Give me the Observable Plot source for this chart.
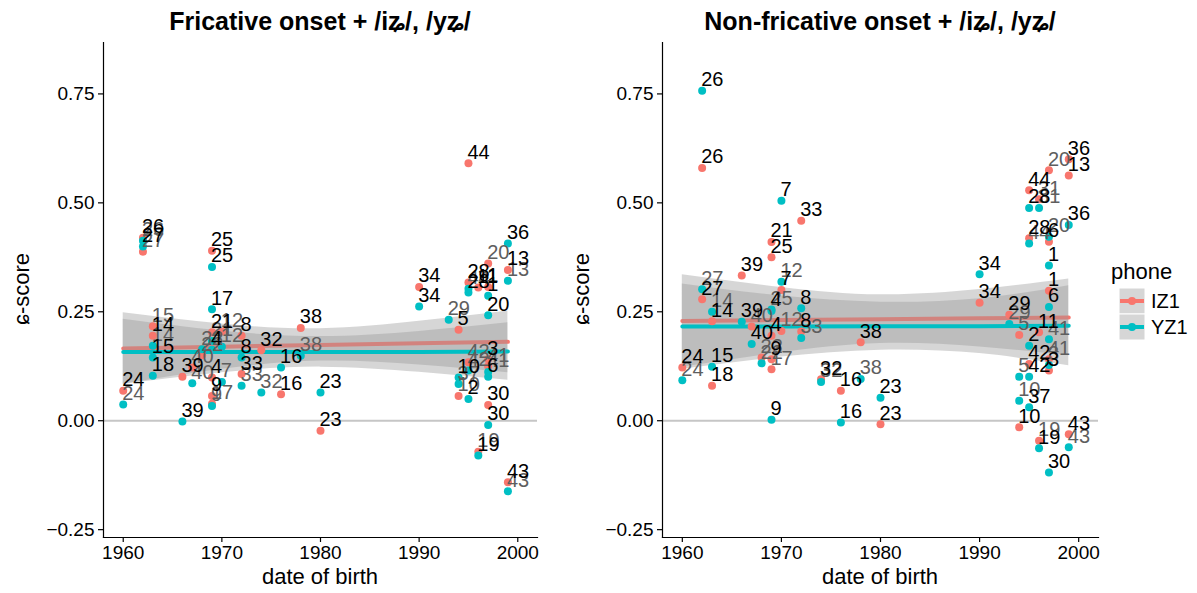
<!DOCTYPE html>
<html>
<head>
<meta charset="utf-8">
<script src="https://cdn.jsdelivr.net/npm/d3@7"></script>
<script src="https://cdn.jsdelivr.net/npm/@observablehq/plot@0.6"></script>
<style>
  body { margin: 0; background: #fff; font-family: "Liberation Sans", Arial, Helvetica, sans-serif; }
  #chart { position: relative; width: 1197px; height: 593px; overflow: hidden; }
  .plot { position: absolute; top: 0; }
  .title { position: absolute; top: 7px; font-weight: bold; font-size: 25px; transform: translateX(-50%); white-space: nowrap; }
  .xlab { position: absolute; top: 564px; font-size: 22px; transform: translateX(-50%); white-space: nowrap; }
  .ylab { position: absolute; top: 289px; font-size: 22px; transform: translate(-50%, -50%) rotate(-90deg); white-space: nowrap; }
  #legend { position: absolute; left: 1108px; top: 254px; }
</style>
</head>
<body>
<div id="chart"></div>
<script>
// Phones and their colours
const phones = ["IZ1", "YZ1"];
const phoneColors = ["#F8766D", "#00BFC4"];
const panelTitles = ["Fricative onset + /iʑ/, /yʑ/", "Non-fricative onset + /iʑ/, /yʑ/"];
const xTitle = "date of birth";
const yTitle = "ɕ-score";
const xTicks = [1960, 1970, 1980, 1990, 2000];
const yTicks = [-0.25, 0, 0.25, 0.5, 0.75];

// Speaker points. Rows: [speaker, date of birth, ɕ-score, label muted (1) or not (0)]
const fricativeIZ1 = [
  [24, 1960, 0.069, 0], [26, 1962, 0.420, 0], [27, 1962, 0.388, 1],
  [15, 1963, 0.217, 1], [14, 1963, 0.195, 0], [39, 1966, 0.101, 0],
  [40, 1967, 0.122, 1], [22, 1968, 0.150, 1], [25, 1969, 0.390, 0],
  [21, 1969, 0.203, 0], [4, 1969, 0.099, 0], [9, 1969, 0.057, 0],
  [17, 1969, 0.039, 1], [12, 1970, 0.205, 1], [8, 1972, 0.195, 0],
  [33, 1972, 0.107, 0], [32, 1974, 0.162, 0], [16, 1976, 0.061, 0],
  [38, 1978, 0.213, 0], [23, 1980, -0.023, 0], [34, 1990, 0.307, 0],
  [5, 1994, 0.209, 0], [10, 1994, 0.057, 1], [44, 1995, 0.591, 0],
  [28, 1995, 0.317, 0], [42, 1995, 0.134, 1], [11, 1996, 0.306, 0],
  [19, 1996, -0.071, 1], [1, 1997, 0.307, 0], [20, 1997, 0.361, 1],
  [3, 1997, 0.141, 0], [41, 1997, 0.125, 1], [30, 1997, 0.036, 0],
  [13, 1999, 0.346, 0], [43, 1999, -0.141, 0]
];
const fricativeYZ1 = [
  [24, 1960, 0.037, 1], [26, 1962, 0.413, 1], [27, 1962, 0.400, 0],
  [14, 1963, 0.172, 1], [15, 1963, 0.145, 0], [18, 1963, 0.103, 0],
  [39, 1966, -0.002, 0], [40, 1967, 0.086, 1], [22, 1968, 0.164, 1],
  [25, 1969, 0.353, 0], [17, 1969, 0.256, 0], [21, 1969, 0.183, 1],
  [4, 1969, 0.163, 0], [9, 1969, 0.034, 1], [7, 1970, 0.089, 1],
  [12, 1970, 0.170, 1], [8, 1972, 0.145, 0], [33, 1972, 0.080, 1],
  [32, 1974, 0.065, 1], [16, 1976, 0.122, 0], [38, 1978, 0.149, 1],
  [23, 1980, 0.065, 0], [34, 1990, 0.262, 0], [29, 1993, 0.232, 1],
  [10, 1994, 0.099, 0], [37, 1994, 0.084, 1], [28, 1995, 0.294, 0],
  [44, 1995, 0.303, 1], [2, 1995, 0.050, 0], [42, 1995, 0.115, 1],
  [19, 1996, -0.080, 0], [1, 1997, 0.287, 0], [20, 1997, 0.242, 0],
  [6, 1997, 0.101, 0], [41, 1997, 0.112, 1], [30, 1997, -0.010, 0],
  [36, 1999, 0.407, 0], [13, 1999, 0.321, 1], [43, 1999, -0.162, 1]
];
const nonFricativeIZ1 = [
  [24, 1960, 0.122, 0], [26, 1962, 0.580, 0], [27, 1962, 0.279, 0],
  [14, 1963, 0.228, 0], [18, 1963, 0.080, 0], [39, 1966, 0.333, 0],
  [40, 1967, 0.216, 1], [22, 1968, 0.145, 1], [21, 1969, 0.410, 0],
  [25, 1969, 0.375, 0], [4, 1969, 0.195, 0], [9, 1969, 0.141, 0],
  [17, 1969, 0.118, 1], [7, 1970, 0.300, 0], [12, 1970, 0.206, 1],
  [33, 1972, 0.459, 0], [8, 1972, 0.205, 0], [32, 1974, 0.095, 0],
  [16, 1976, 0.069, 0], [38, 1978, 0.180, 0], [23, 1980, -0.008, 0],
  [34, 1990, 0.271, 0], [29, 1993, 0.243, 0], [5, 1994, 0.197, 1],
  [10, 1994, -0.015, 0], [44, 1995, 0.529, 0], [28, 1995, 0.419, 0],
  [42, 1995, 0.130, 0], [31, 1996, 0.508, 1], [11, 1996, 0.203, 0],
  [19, 1996, -0.046, 1], [20, 1997, 0.575, 1], [6, 1997, 0.411, 0],
  [1, 1997, 0.298, 0], [41, 1997, 0.141, 1], [3, 1997, 0.115, 0],
  [36, 1999, 0.600, 0], [13, 1999, 0.563, 0], [43, 1999, -0.031, 0]
];
const nonFricativeYZ1 = [
  [24, 1960, 0.093, 1], [26, 1962, 0.757, 0], [27, 1962, 0.302, 1],
  [14, 1963, 0.250, 1], [15, 1963, 0.124, 0], [39, 1966, 0.227, 0],
  [40, 1967, 0.176, 0], [22, 1968, 0.132, 1], [25, 1969, 0.255, 1],
  [4, 1969, 0.252, 0], [9, 1969, 0.002, 0], [7, 1970, 0.505, 0],
  [12, 1970, 0.319, 1], [8, 1972, 0.258, 0], [33, 1972, 0.190, 1],
  [32, 1974, 0.089, 1], [16, 1976, -0.004, 0], [38, 1978, 0.096, 1],
  [23, 1980, 0.053, 0], [34, 1990, 0.336, 0], [29, 1993, 0.222, 1],
  [5, 1994, 0.101, 1], [10, 1994, 0.046, 1], [28, 1995, 0.488, 0],
  [44, 1995, 0.407, 1], [2, 1995, 0.172, 0], [42, 1995, 0.101, 0],
  [37, 1995, 0.031, 0], [31, 1996, 0.488, 1], [19, 1996, -0.063, 0],
  [20, 1997, 0.422, 1], [1, 1997, 0.356, 0], [6, 1997, 0.261, 0],
  [41, 1997, 0.187, 1], [3, 1997, 0.128, 1], [30, 1997, -0.119, 0],
  [36, 1999, 0.449, 0], [43, 1999, -0.061, 1]
];

// Linear fits with 95% confidence limits, sampled at these dates of birth
const fitYears = [1960, 1970, 1980, 1990, 1999];
const fricativeFitIZ1 = [0.166, 0.170, 0.174, 0.178, 0.181];
const fricativeLowIZ1 = [0.084, 0.118, 0.137, 0.128, 0.110];
const fricativeHighIZ1 = [0.248, 0.222, 0.211, 0.228, 0.252];
const fricativeFitYZ1 = [0.158, 0.158, 0.158, 0.158, 0.159];
const fricativeLowYZ1 = [0.083, 0.110, 0.123, 0.111, 0.093];
const fricativeHighYZ1 = [0.233, 0.206, 0.193, 0.205, 0.225];
const nonFricativeFitIZ1 = [0.229, 0.231, 0.233, 0.235, 0.237];
const nonFricativeLowIZ1 = [0.123, 0.156, 0.177, 0.169, 0.149];
const nonFricativeHighIZ1 = [0.335, 0.306, 0.289, 0.301, 0.325];
const nonFricativeFitYZ1 = [0.216, 0.216, 0.217, 0.217, 0.218];
const nonFricativeLowYZ1 = [0.118, 0.146, 0.162, 0.154, 0.126];
const nonFricativeHighYZ1 = [0.314, 0.286, 0.272, 0.280, 0.310];

const toRows = (tuples, phone) =>
  tuples.map(([speaker, dob, score, muted]) => ({speaker: String(speaker), dob, score, phone, muted: !!muted}));
const toFit = (fit, low, high, phone) =>
  fitYears.map((dob, i) => ({dob, fit: fit[i], low: low[i], high: high[i], phone}));

const panels = [
  {title: panelTitles[0],
   rows: [...toRows(fricativeIZ1, "IZ1"), ...toRows(fricativeYZ1, "YZ1")],
   fits: [toFit(fricativeFitIZ1, fricativeLowIZ1, fricativeHighIZ1, "IZ1"),
          toFit(fricativeFitYZ1, fricativeLowYZ1, fricativeHighYZ1, "YZ1")],
   left: 0, width: 550, marginLeft: 103, marginRight: 13},
  {title: panelTitles[1],
   rows: [...toRows(nonFricativeIZ1, "IZ1"), ...toRows(nonFricativeYZ1, "YZ1")],
   fits: [toFit(nonFricativeFitIZ1, nonFricativeLowIZ1, nonFricativeHighIZ1, "IZ1"),
          toFit(nonFricativeFitYZ1, nonFricativeLowYZ1, nonFricativeHighYZ1, "YZ1")],
   left: 560, width: 545, marginLeft: 102, marginRight: 7}
];

const chart = document.getElementById("chart");
const fontFamily = '"Liberation Sans", Arial, Helvetica, sans-serif';

for (const p of panels) {
  // each phone: confidence band, then its fitted line
  const fitMarks = p.fits.flatMap(f => [
    Plot.areaY(f, {x: "dob", y1: "low", y2: "high", fill: "#999999", fillOpacity: 0.4, curve: "natural"}),
    Plot.lineY(f, {x: "dob", y: "fit", stroke: "phone", strokeWidth: 4})
  ]);
  const svg = Plot.plot({
    width: p.width,
    height: 593,
    marginTop: 42,
    marginBottom: 56,
    marginLeft: p.marginLeft,
    marginRight: p.marginRight,
    style: {fontFamily, fontSize: "19px", color: "#000", background: "transparent", overflow: "visible"},
    x: {domain: [1958, 2002]},
    y: {domain: [-0.268, 0.868]},
    color: {domain: phones, range: phoneColors},
    marks: [
      Plot.ruleY([0], {stroke: "#c6c6c6", strokeWidth: 2}),
      ...fitMarks,
      Plot.dot(p.rows, {x: "dob", y: "score", fill: "phone", r: 4}),
      Plot.text(p.rows.filter(d => d.muted), {
        x: "dob", y: "score", text: "speaker", fill: "#5e5e5e",
        textAnchor: "start", dx: -1, dy: -11, fontSize: 20
      }),
      Plot.text(p.rows.filter(d => !d.muted), {
        x: "dob", y: "score", text: "speaker", fill: "#000",
        textAnchor: "start", dx: -1, dy: -11, fontSize: 20
      }),
      Plot.axisX({ticks: xTicks, tickFormat: d => String(d), tickSize: 5, tickPadding: 3, label: null, stroke: "#000", strokeWidth: 1.2}),
      Plot.axisY({ticks: yTicks, tickFormat: d3.format(".2f"), tickSize: 5, tickPadding: 4, label: null, stroke: "#000", strokeWidth: 1.2}),
      Plot.frame({anchor: "left", stroke: "#000", strokeWidth: 1.2}),
      Plot.frame({anchor: "bottom", stroke: "#000", strokeWidth: 1.2})
    ]
  });
  svg.classList.add("plot");
  svg.style.left = p.left + "px";
  chart.appendChild(svg);

  const cx = p.left + p.marginLeft + (p.width - p.marginLeft - p.marginRight) / 2;
  const t = document.createElement("div");
  t.className = "title"; t.textContent = p.title; t.style.left = cx + "px";
  chart.appendChild(t);
  const xl = document.createElement("div");
  xl.className = "xlab"; xl.textContent = xTitle; xl.style.left = cx + "px";
  chart.appendChild(xl);
  const yl = document.createElement("div");
  yl.className = "ylab"; yl.textContent = yTitle; yl.style.left = (p.left + 22) + "px";
  chart.appendChild(yl);
}

// Legend: phone keys with the smoothing band behind line and point
const keySize = 26;
const legend = d3.create("svg")
  .attr("id", "legend")
  .attr("width", 90)
  .attr("height", 90)
  .style("font-family", fontFamily);
legend.append("text").attr("x", 3).attr("y", 25).attr("font-size", 22).text("phone");
phones.forEach((ph, i) => {
  const g = legend.append("g").attr("transform", `translate(11,${34 + i * keySize})`);
  g.append("rect").attr("width", keySize).attr("height", keySize).attr("fill", "#d6d6d6")
    .attr("stroke", "#fff").attr("stroke-width", 1);
  g.append("line").attr("x1", 1).attr("x2", keySize - 1).attr("y1", keySize / 2).attr("y2", keySize / 2)
    .attr("stroke", phoneColors[i]).attr("stroke-width", 4);
  g.append("circle").attr("cx", keySize / 2).attr("cy", keySize / 2).attr("r", 4).attr("fill", phoneColors[i]);
  g.append("text").attr("x", keySize + 6).attr("y", keySize / 2).attr("dy", "0.35em")
    .attr("font-size", 20).text(ph);
});
chart.appendChild(legend.node());
</script>
</body>
</html>
